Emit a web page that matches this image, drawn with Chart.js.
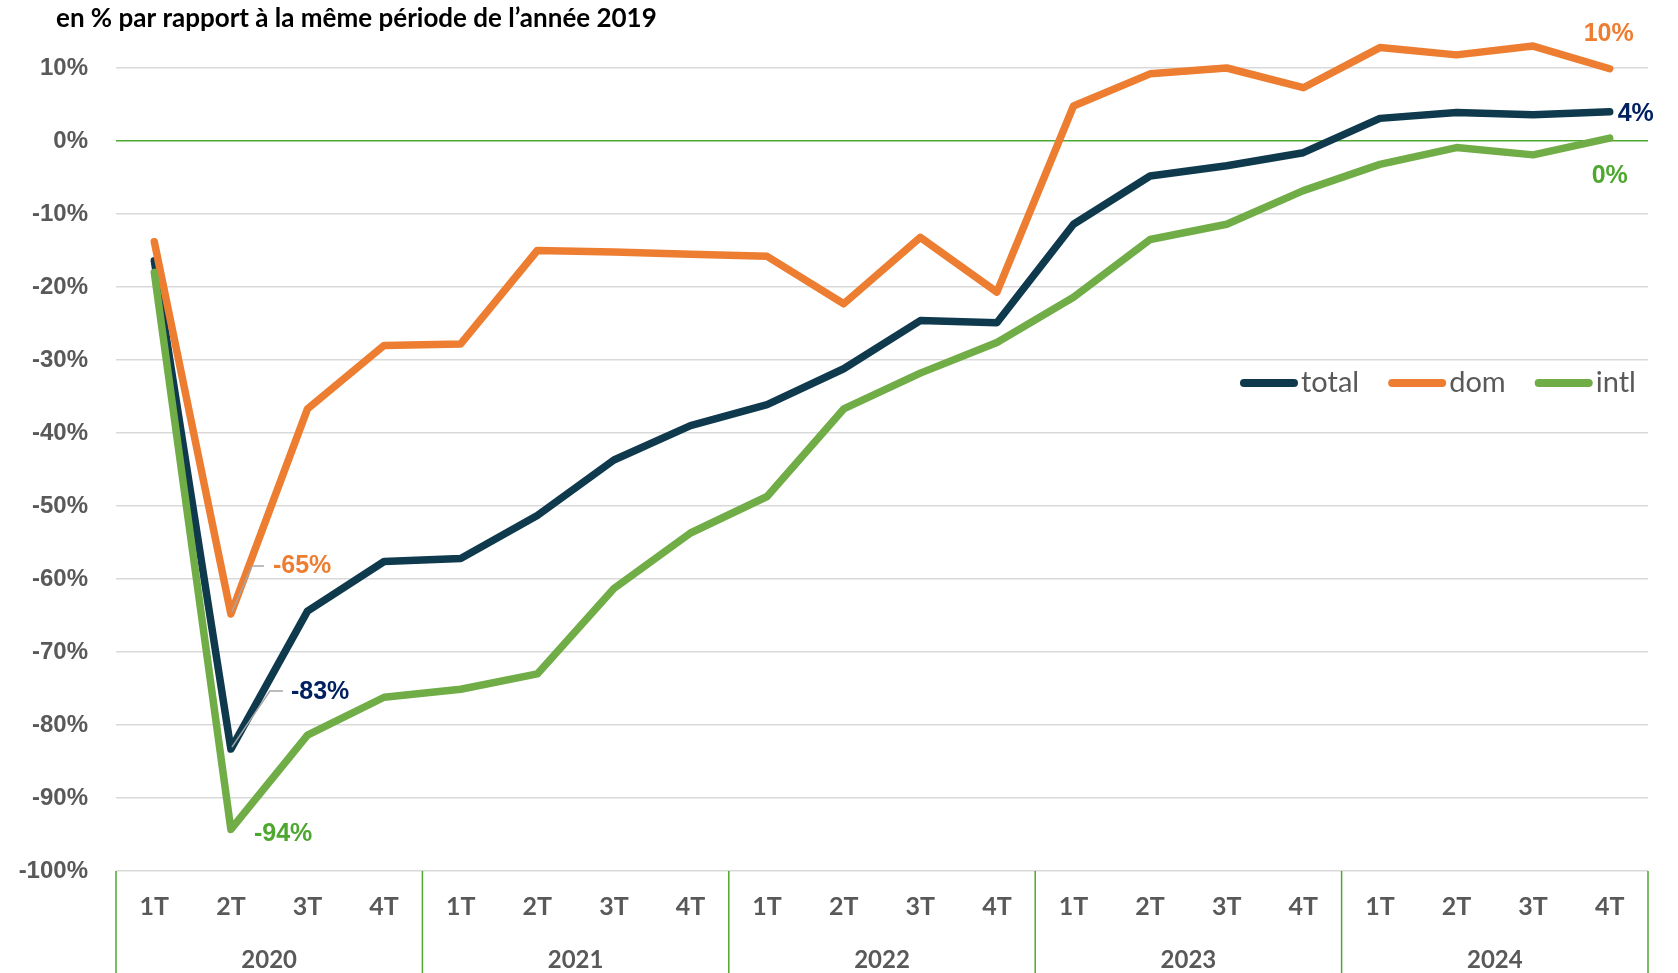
<!DOCTYPE html>
<html>
<head>
<meta charset="utf-8">
<script src="https://cdn.jsdelivr.net/npm/chart.js@4.4.1/dist/chart.umd.min.js"></script>
<style>
html,body{margin:0;padding:0;background:#fff;}
#wrap{width:1678px;height:973px;position:relative;}
</style>
</head>
<body>
<div id="wrap"><canvas id="c"></canvas></div>
<script>
const titleText = "en % par rapport à la même période de l’année 2019";
const quarterLabels = ['1T','2T','3T','4T','1T','2T','3T','4T','1T','2T','3T','4T','1T','2T','3T','4T','1T','2T','3T','4T'];
const yearLabels = ['2020','2021','2022','2023','2024'];
const seriesNames = ['total','dom','intl'];
const totalValues = [-16.4,-83.3,-64.4,-57.6,-57.2,-51.3,-43.7,-39.0,-36.1,-31.2,-24.6,-24.9,-11.4,-4.8,-3.4,-1.6,3.1,3.9,3.6,4.0];
const domValues   = [-13.8,-64.8,-36.7,-28.0,-27.8,-15.0,-15.2,-15.5,-15.8,-22.3,-13.2,-20.7,4.8,9.2,10.0,7.3,12.8,11.8,13.0,9.9];
const intlValues  = [-18.0,-94.3,-81.4,-76.2,-75.1,-73.0,-61.3,-53.7,-48.7,-36.7,-31.8,-27.6,-21.4,-13.5,-11.4,-6.8,-3.2,-0.9,-1.9,0.4];
const yMin = -100, yMax = 10, yStep = 10;

const colTotal = '#0F3A4E', colDom = '#ED7D31', colIntl = '#70AD47';
const labelColors = ['#002060', '#ED7D31', '#4EA72E'];
const axisGray = '#595959';
const sepGreen = '#4EA72E';

// annotation placement (style only): dataset index, point index, dx, dy, align, leader
const annots = [
  {ds:1, i:1, dx:42, dy:-48, align:'left', leader:[[1,-2],[21,-48],[33,-48]]},
  {ds:0, i:1, dx:60, dy:-57, align:'left', leader:[[1,-2],[39,-58],[52,-58]]},
  {ds:2, i:1, dx:23, dy:5, align:'left'},
  {ds:1, i:19, dx:-1, dy:-35, align:'center'},
  {ds:0, i:19, dx:8, dy:2, align:'left'},
  {ds:2, i:19, dx:0, dy:38, align:'center'}
];

const titlePlugin = {
  id:'titleP',
  afterDraw(chart){
    const ctx = chart.ctx;
    ctx.save();
    ctx.font = 'bold 26px Lato';
    ctx.fillStyle = '#000';
    ctx.textBaseline = 'middle';
    ctx.textAlign = 'left';
    ctx.fillText(titleText, 56, 19);
    ctx.restore();
  }
};

const yearPlugin = {
  id:'yearP',
  afterDraw(chart){
    const ctx = chart.ctx, x = chart.scales.x, a = chart.chartArea;
    const H = chart.height;
    ctx.save();
    ctx.strokeStyle = sepGreen;
    ctx.lineWidth = 1.5;
    const n = yearLabels.length;
    const bounds = [];
    for (let g=0; g<=n; g++){
      let bx;
      if (g===0) bx = a.left;
      else if (g===n) bx = a.right;
      else bx = (x.getPixelForValue(4*g-1) + x.getPixelForValue(4*g))/2;
      bounds.push(bx);
      ctx.beginPath();
      ctx.moveTo(bx, a.bottom);
      ctx.lineTo(bx, H);
      ctx.stroke();
    }
    ctx.font = 'bold 24px Lato';
    ctx.fillStyle = axisGray;
    ctx.textAlign = 'center';
    ctx.textBaseline = 'middle';
    for (let g=0; g<n; g++){
      ctx.fillText(yearLabels[g], (bounds[g]+bounds[g+1])/2, 960);
    }
    ctx.restore();
  }
};

const legendPlugin = {
  id:'legendP',
  afterDraw(chart){
    const ctx = chart.ctx;
    ctx.save();
    ctx.font = '29px Lato';
    ctx.textBaseline = 'middle';
    ctx.textAlign = 'left';
    let x = 1240;
    const y = 383;
    chart.data.datasets.forEach(ds=>{
      ctx.strokeStyle = ds.borderColor;
      ctx.lineWidth = 8;
      ctx.lineCap = 'round';
      ctx.beginPath();
      ctx.moveTo(x+4, y);
      ctx.lineTo(x+54, y);
      ctx.stroke();
      ctx.fillStyle = axisGray;
      ctx.fillText(ds.label, x+61, y);
      x += 61 + ctx.measureText(ds.label).width + 29;
    });
    ctx.restore();
  }
};

const annotPlugin = {
  id:'annotP',
  afterDatasetsDraw(chart){
    const ctx = chart.ctx;
    ctx.save();
    annots.forEach(an=>{
      const p = chart.getDatasetMeta(an.ds).data[an.i];
      const v = chart.data.datasets[an.ds].data[an.i];
      if (an.leader){
        ctx.strokeStyle = '#A6A6A6';
        ctx.lineWidth = 1.5;
        ctx.beginPath();
        an.leader.forEach((pt,k)=>{
          if (k===0) ctx.moveTo(p.x+pt[0], p.y+pt[1]); else ctx.lineTo(p.x+pt[0], p.y+pt[1]);
        });
        ctx.stroke();
      }
      ctx.font = 'bold 25px "Liberation Sans"';
      ctx.fillStyle = labelColors[an.ds];
      ctx.textAlign = an.align;
      ctx.textBaseline = 'middle';
      ctx.fillText(Math.round(v) + '%', p.x+an.dx, p.y+an.dy);
    });
    ctx.restore();
  }
};

const mk = (label, data, color, order) => ({
  label, data, borderColor: color, backgroundColor: color,
  borderWidth: 7.5, pointRadius: 0, pointHoverRadius: 0, tension: 0,
  borderCapStyle: 'round', borderJoinStyle: 'round', clip: false, order, fill:false
});

new Chart(document.getElementById('c'), {
  type: 'line',
  data: {
    labels: quarterLabels,
    datasets: [
      mk(seriesNames[0], totalValues, colTotal, 2),
      mk(seriesNames[1], domValues, colDom, 1),
      mk(seriesNames[2], intlValues, colIntl, 0)
    ]
  },
  options: {
    responsive: true,
    maintainAspectRatio: false,
    animation: false,
    layout: { padding: { left: 0, right: 30, top: 68, bottom: 0 } },
    plugins: { legend: { display: false }, tooltip: { enabled: false }, title: { display: false } },
    scales: {
      x: {
        offset: true,
        grid: { display: false, drawTicks: false },
        border: { display: false },
        ticks: { autoSkip: false, maxRotation: 0, padding: 21, color: axisGray, font: { family: 'Lato', weight: 'bold', size: 25 } },
        afterFit(s){ s.height = 102; }
      },
      y: {
        min: yMin, max: yMax,
        grid: {
          drawTicks: false,
          color: c => (c.tick && c.tick.value === 0) ? sepGreen : '#D9D9D9',
          lineWidth: 1.5
        },
        border: { display: false },
        ticks: {
          stepSize: yStep, padding: 28, color: axisGray,
          font: { family: 'Liberation Sans', weight: 'bold', size: 24 },
          callback: v => v + '%'
        },
        afterFit(s){ s.width = 116; }
      }
    }
  },
  plugins: [titlePlugin, yearPlugin, legendPlugin, annotPlugin]
});
</script>
</body>
</html>
